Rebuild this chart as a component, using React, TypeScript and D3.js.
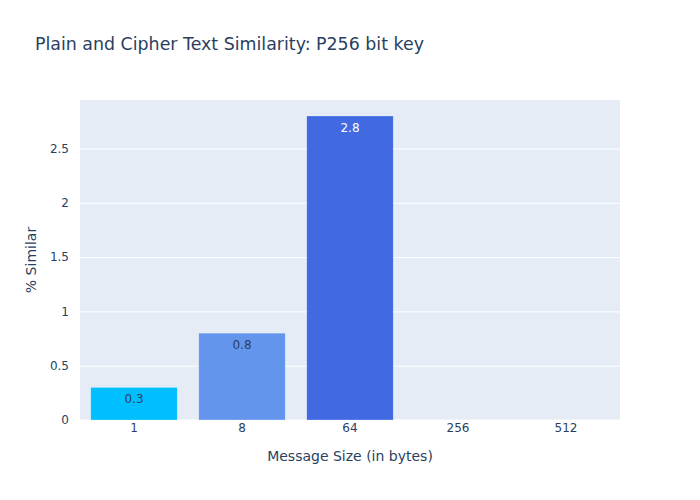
import * as d3 from "d3";
import {useEffect, useRef} from "react";

const categories = ["1", "8", "64", "256", "512"];
const values = [0.3, 0.8, 2.8, 0, 0];
const colors = ["#00BFFF", "#6495ED", "#4169E1", "#1E90FF", "#0000FF"];
const labelColors = ["#2a3f5f", "#2a3f5f", "#ffffff", "#2a3f5f", "#2a3f5f"];
const yTicks = [0, 0.5, 1, 1.5, 2, 2.5];

const App = () => {
	const svgRef = useRef<SVGSVGElement>(null);

	useEffect(() => {
		const width = 700;
		const height = 500;
		const marginTop = 100;
		const marginRight = 80;
		const marginBottom = 80;
		const marginLeft = 80;
		const font = "'DejaVu Sans', Verdana, sans-serif";
		const ink = "#2a3f5f";

		const svg = d3.select(svgRef.current)
			.attr("width", width)
			.attr("height", height)
			.attr("viewBox", [0, 0, width, height].join(" "))
			.style("display", "block")
			.style("font-family", font);

		svg.selectAll("*").remove();

		svg.append("rect").attr("width", width).attr("height", height).attr("fill", "#fff");

		const x = d3.scaleBand()
			.domain(categories)
			.range([marginLeft, width - marginRight])
			.paddingInner(0.2)
			.paddingOuter(0.1);

		const yMax = (d3.max(values) as number) * 1.0526;
		const y = d3.scaleLinear()
			.domain([0, yMax])
			.range([height - marginBottom, marginTop]);

		// plot background
		svg.append("rect")
			.attr("x", marginLeft)
			.attr("y", marginTop)
			.attr("width", width - marginLeft - marginRight)
			.attr("height", height - marginTop - marginBottom)
			.attr("fill", "#E5ECF6");

		// y axis with white grid lines
		svg.append("g")
			.attr("transform", `translate(${marginLeft},0)`)
			.call(d3.axisLeft(y).tickValues(yTicks).tickSize(0).tickPadding(11).tickFormat((d) => d3.format("")(d as number)))
			.call((g) => g.select(".domain").remove())
			.call((g) => g.selectAll(".tick line").remove())
			.call((g) => g.selectAll(".tick").append("line")
				.attr("x2", width - marginLeft - marginRight)
				.attr("stroke", "#fff")
				.attr("stroke-width", (d) => (d === 0 ? 2 : 1)))
			.selectAll("text")
			.attr("fill", ink)
			.attr("font-size", 12)
			.attr("font-family", font);

		// bars
		svg.append("g")
			.selectAll("rect")
			.data(values)
			.join("rect")
			.attr("x", (_, i) => x(categories[i]) as number)
			.attr("y", (d) => y(d))
			.attr("width", x.bandwidth())
			.attr("height", (d) => y(0) - y(d))
			.attr("fill", (_, i) => colors[i])
			.attr("stroke", "rgba(255,255,255,0.5)")
			.attr("stroke-width", 0.5);

		// bar labels
		const labelled = values.map((v, i) => ({v, i})).filter((d) => d.v > 0);
		svg.append("g")
			.selectAll("text")
			.data(labelled)
			.join("text")
			.attr("x", (d) => (x(categories[d.i]) as number) + x.bandwidth() / 2)
			.attr("y", (d) => y(d.v) + 16)
			.attr("text-anchor", "middle")
			.attr("font-size", 12)
			.attr("fill", (d) => labelColors[d.i])
			.text((d) => String(d.v));

		// x axis
		svg.append("g")
			.attr("transform", `translate(0,${height - marginBottom})`)
			.call(d3.axisBottom(x).tickSize(0).tickPadding(3))
			.call((g) => g.select(".domain").remove())
			.selectAll("text")
			.attr("fill", ink)
			.attr("font-size", 12)
			.attr("font-family", font);

		// titles
		svg.append("text")
			.attr("x", 35)
			.attr("y", 50)
			.attr("fill", ink)
			.attr("font-size", 17.4)
			.text("Plain and Cipher Text Similarity: P256 bit key");

		svg.append("text")
			.attr("x", (marginLeft + width - marginRight) / 2)
			.attr("y", 461)
			.attr("text-anchor", "middle")
			.attr("fill", ink)
			.attr("font-size", 14)
			.text("Message Size (in bytes)");

		svg.append("text")
			.attr("transform", `translate(36,${(marginTop + height - marginBottom) / 2}) rotate(-90)`)
			.attr("text-anchor", "middle")
			.attr("fill", ink)
			.attr("font-size", 14)
			.text("% Similar");
	}, []);

	return (
		<div style={{width: 700, height: 500, margin: -8}}>
			<svg ref={svgRef}></svg>
		</div>
	);
};
export default App;
